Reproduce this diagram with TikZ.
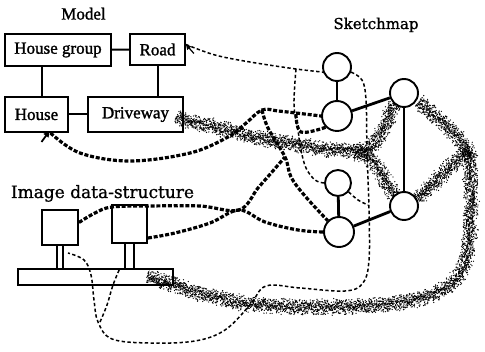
\documentclass[tikz,border=0pt]{standalone}
\usepackage{fontspec}
\setmainfont{Liberation Serif}[FakeBold=1.4]
\newfontfamily\headfont{DejaVu Serif}[FakeBold=1.0]
\usetikzlibrary{arrows.meta}

% grainy band along one straight piece: dots scattered across the line (x1,y1)-(x2,y2)
\newcommand\grainseg[4]{%
  \pgfmathsetmacro\gdx{#3-#1}%
  \pgfmathsetmacro\gdy{#4-#2}%
  \pgfmathsetmacro\glen{veclen(\gdx,\gdy)}%
  \pgfmathtruncatemacro\gnum{max(1,\glen/0.6)}%
  \pgfmathsetmacro\gux{\gdx/\glen}%
  \pgfmathsetmacro\guy{\gdy/\glen}%
  \foreach \gi in {1,...,\gnum}{%
    \foreach \gk in {1,...,5}{%
      \pgfmathsetmacro\gt{(\gi-rnd)/\gnum}%
      \pgfmathsetmacro\goff{(rand+rand)*4.4}%
      \fill ({#1+\gt*\gdx-\guy*\goff},{#2+\gt*\gdy+\gux*\goff}) circle[radius=0.66pt];}}}
% grainy band along a polyline given as x/y pairs
\newcommand\grainband[1]{%
  \foreach \bx/\by [remember=\bx as \gpx (initially 0), remember=\by as \gpy (initially 0), count=\bi] in {#1}{%
    \ifnum\bi>1\relax\grainseg{\gpx}{\gpy}{\bx}{\by}\fi}}

\tikzset{
  box/.style={draw, line width=1.9pt, inner sep=0pt, font=\fontsize{17}{17}\selectfont},
  link/.style={line width=2pt},
  sketchnode/.style={circle, draw, line width=1.9pt, minimum size=28pt, inner sep=0pt},
  sketchedge/.style={line width=2.8pt},
  heavy/.style={line width=3.2pt, dash pattern=on 4pt off 1.8pt},
  light/.style={line width=1.5pt, dash pattern=on 3.4pt off 2.4pt},
  label/.style={anchor=base, inner sep=0pt},
}

\begin{document}
\begin{tikzpicture}[x=1pt, y=-1pt]
\pgfmathsetseed{7}
\useasboundingbox (0,0) rectangle (485,352);
\fill[white] (0,0) rectangle (485,352);

% ---- titles
\node[label, font=\fontsize{17}{17}\selectfont] (model) at (83.5,19.5) {Model};
\node[label, font=\headfont\fontsize{15}{15}\selectfont] (sketch) at (376,29) {Sketchmap};
\node[label, font=\headfont\fontsize{17}{17}\selectfont] (imgds) at (102.5,198) {Image data-structure};

% ---- model graph
\node[box, minimum width=106pt, minimum height=32pt] (hg) at (58,50) {House group};
\node[box, minimum width=55pt, minimum height=31pt] (road) at (157.5,49.5) {Road};
\node[box, minimum width=63pt, minimum height=35pt] (house) at (36.5,114.5) {House};
\node[box, minimum width=95pt, minimum height=35pt] (drive) at (135.5,114.5) {Driveway};
\draw[link] (hg) -- (road);
\draw[link] (house) -- (drive);
\draw[link] ([xshift=5.5pt]house.north) -- ([xshift=5.5pt]house.north |- hg.south);
\draw[link] (road.south) -- (road.south |- drive.north);

% ---- sketch map
\node[sketchnode] (c1) at (337,67) {};
\node[sketchnode, minimum size=30pt] (c2) at (337,116) {};
\node[sketchnode] (c3) at (404,93) {};
\node[sketchnode, minimum size=26pt] (c4) at (338,183) {};
\node[sketchnode, minimum size=30pt] (c5) at (339,232) {};
\node[sketchnode] (c6) at (404,206) {};
\draw[sketchedge] (c1) -- (c2);
\draw[sketchedge] (c2) -- (c3);
\draw[line width=2pt] (c3) -- (c6);
\draw[sketchedge] (c4) -- (c5);
\draw[sketchedge] (c5) -- (c6);

% ---- image data-structure
\node[box, minimum width=36pt, minimum height=35pt] (sqa) at (60,227.5) {};
\node[box, minimum width=35pt, minimum height=38pt] (sqb) at (129.5,224) {};
\node[box, minimum width=155pt, minimum height=16pt] (bar) at (95.5,277) {};
\foreach \s/\d in {sqa/3, sqb/4.5}{
  \draw[link] ([xshift=-\d pt]\s.south) -- ([xshift=-\d pt]\s.south |- bar.north);
  \draw[link] ([xshift=\d pt]\s.south) -- ([xshift=\d pt]\s.south |- bar.north);
}

% ---- junctions of the correspondence lines
\coordinate (pk) at (262,110);
\coordinate (jx) at (239,210);
\coordinate (jm) at (285,157);

% ---- grainy bands: Driveway <-> driveway strip <-> edge c3--c6
\grainband{176/117, 186/120, 200/123, 215/127, 232/131, 250/136, 275/141, 300/146, 325/149, 345/151, 362/151, 372/148, 379/138, 385/125, 391/112, 395/104}
\grainband{355/152, 366/155, 374/162, 381/173, 388/185, 394/196}
\grainband{147/276, 160/280, 173/284, 190/290, 210/296, 235/302, 260/305, 295/307, 330/307, 370/306, 405/302, 430/296, 450/286, 461/273, 467/258, 470/235, 471/210, 471/185, 470/165, 470/152}
\grainband{471/155, 462/142, 452/131, 440/120, 428/110, 418/102}
\grainband{470/150, 460/158, 450/166, 440/177, 428/189, 418/200}

% ---- heavy dashed lines: houses
\draw[heavy] plot[smooth, tension=0.6] coordinates {([xshift=14pt]house.south) (80,153) (130,161) (190,153) (228,137) (245,124) (pk) (278,111) (296,113) (c2.west)};
\draw[heavy] plot[smooth, tension=0.6] coordinates {(296,114) (301,132) (c2.south west)};
\draw[heavy] plot[smooth, tension=0.6] coordinates {(pk) (268,128) (jm) (291,177) (305,196) (c5.north west)};
\draw[heavy] plot[smooth, tension=0.6] coordinates {([yshift=5pt]sqa.east) (95,213) (112,207) (150,206) (200,206) (jx) (258,188) (272,172) (jm)};
\draw[heavy] plot[smooth, tension=0.6] coordinates {([yshift=-14pt]sqb.east) (175,233) (210,223) (jx) (265,222) (298,230) (c5.west)};
\draw[-{Triangle[length=6pt,width=6pt]}, line width=1.8pt] ([shift={(5,9)}]house.south) -- ([xshift=13pt, yshift=2pt]house.south);

% ---- light dashed lines: road
\draw[light] plot[smooth, tension=0.6] coordinates {([yshift=5pt]road.east) (215,55) (250,62) (296,69) (c1.200)};
\draw[light] plot[smooth, tension=0.6] coordinates {(296,69) (294,105) (298,130) (301,150) (306,168) (315,180) (c4.west)};
\draw[light] plot[smooth, tension=0.6] coordinates {(c1.-20) (362,80) (366,100) (367,150) (369,210) (369,260) (363,283) (345,291) (300,288) (266,286) (250,305) (225,330) (195,341) (150,343) (112,339) (98,322) (94,300) (91,275) (84,260) (68,253)};
\draw[light] plot[smooth, tension=0.6] coordinates {(100,322) (107,305) (113,285) (120,268)};
\draw[light] plot[smooth, tension=0.6] coordinates {(c4.-40) (358,200) (368,205)};
\draw[-{Triangle[length=5pt,width=5pt]}, line width=1.2pt] ([shift={(8,4)}]road.east) -- ([yshift=5pt]road.east);
\end{tikzpicture}
\end{document}
